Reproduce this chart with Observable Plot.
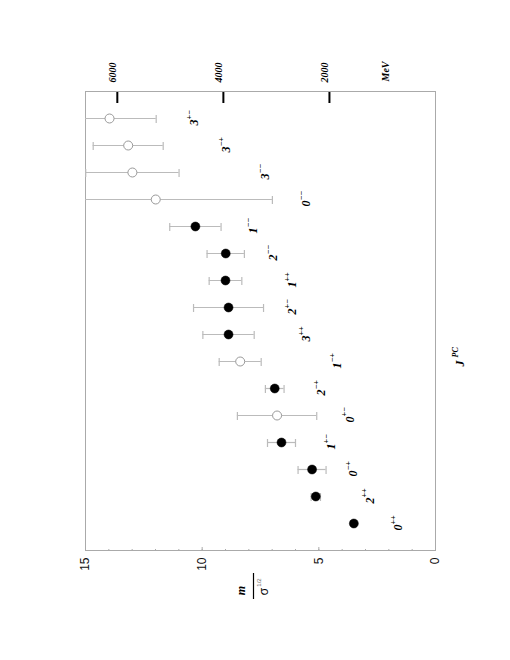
<!DOCTYPE html>
<html><head><meta charset="utf-8">
<script src="https://cdn.jsdelivr.net/npm/d3@7"></script>
<script src="https://cdn.jsdelivr.net/npm/@observablehq/plot@0.6"></script>
<style>
html,body{margin:0;padding:0;background:#fff;width:510px;height:660px;overflow:hidden}
#chart{position:absolute;left:-75px;top:75px;width:660px;height:510px;transform:rotate(-90deg);transform-origin:50% 50%}
#chart svg{display:block}
</style></head><body><div id="chart"></div>
<script>
// J^PC states, ordered along the category axis
const states = ["0++","2++","0-+","1+-","0+-","2-+","1-+","3++","2+-","1++","2--","1--","0--","3--","3-+","3+-"];
// m / sigma^(1/2)
const mass = [3.50,5.13,5.29,6.60,6.79,6.89,8.37,8.87,8.87,9.00,8.99,10.29,11.99,12.99,13.17,13.97];
const err  = [0.05,0.20,0.60,0.60,1.70,0.40,0.90,1.10,1.50,0.70,0.80,1.10,5.00,2.00,1.50,2.00];
const confirmed = [true,true,true,true,false,true,false,true,true,true,true,true,false,false,false,false];
// where each J^PC annotation sits on the m/sigma^(1/2) axis
const labelAt = [1.64,2.86,3.57,4.50,3.72,4.93,4.24,5.57,6.18,6.18,7.00,7.84,5.57,7.33,9.00,10.37];
const yDomain = [0, 15];
const yMinorTicks = d3.range(0, 16);
const yMajorTicks = [0, 5, 10, 15];
const mevTicks = [2000, 4000, 6000];
const sqrtSigmaMeV = 440;

const rows = states.map((s, i) => ({
  s, m: mass[i], lo: mass[i] - err[i], hi: mass[i] + err[i],
  filled: confirmed[i], lab: labelAt[i],
  J: s[0], PC: s.slice(1).replace(/-/g, "\u2212")
}));

const W = 660, H = 510, mL = 109, mR = 92, mT = 85, mB = 75;
const fw = W - mL - mR;
const mid = (yDomain[0] + yDomain[1]) / 2;
const serif = "'Liberation Serif','Times New Roman',serif";
const sans = "'Liberation Sans',Arial,sans-serif";

const plot = Plot.plot({
  width: W, height: H,
  marginLeft: mL, marginRight: mR, marginTop: mT, marginBottom: mB,
  x: {type: "band", domain: states, paddingInner: 1, paddingOuter: 1, axis: null},
  y: {domain: yDomain, axis: null},
  style: {background: "white", overflow: "visible"},
  marks: [
    Plot.frame({stroke: "#aaa"}),
    // left axis ticks (inside)
    Plot.ruleY(yMinorTicks, {y: d => d, stroke: "#aaa", insetRight: fw - 2}),
    Plot.ruleY(yMajorTicks, {y: d => d, stroke: "#aaa", insetRight: fw - 4}),
    Plot.text(yMajorTicks, {y: d => d, text: d => String(d), frameAnchor: "left", dx: -7,
      textAnchor: "end", fontSize: 12, fontFamily: sans, fill: "#111"}),
    // MeV axis (right side)
    Plot.ruleY(mevTicks, {y: d => d / sqrtSigmaMeV, stroke: "black", strokeWidth: 2, insetLeft: fw - 11}),
    Plot.text(mevTicks, {y: d => d / sqrtSigmaMeV, text: d => String(d), frameAnchor: "right", dx: 9, dy: -5,
      textAnchor: "start", fontSize: 10, fontStyle: "italic", fontWeight: "bold", fontFamily: serif}),
    Plot.text(["MeV"], {frameAnchor: "bottom-right", lineAnchor: "middle", dx: 10, dy: -50,
      textAnchor: "start", fontSize: 10, fontStyle: "italic", fontWeight: "bold", fontFamily: serif}),
    // y label  m / sigma^(1/2)
    Plot.text(["m"], {frameAnchor: "left", dx: -40, dy: -19, textAnchor: "middle",
      fontSize: 12, fontStyle: "italic", fontWeight: "bold", fontFamily: serif}),
    Plot.ruleY([mid], {dy: -7, stroke: "black", strokeWidth: 1.2, insetLeft: -48, insetRight: fw + 22}),
    Plot.text(["\u03C3"], {frameAnchor: "left", dx: -41, dy: 4, textAnchor: "middle",
      fontSize: 12, fontFamily: sans}),
    Plot.text(["1/2"], {frameAnchor: "left", dx: -32, dy: -1, textAnchor: "middle",
      fontSize: 6, fontFamily: sans, fill: "#666"}),
    // x label J^PC
    Plot.text(["J"], {x: () => "1-+", frameAnchor: "bottom", lineAnchor: "middle", dy: 25, dx: 1,
      textAnchor: "end", fontSize: 12, fontStyle: "italic", fontWeight: "bold", fontFamily: serif}),
    Plot.text(["PC"], {x: () => "1-+", frameAnchor: "bottom", lineAnchor: "middle", dy: 20, dx: 4,
      textAnchor: "start", fontSize: 8, fontStyle: "italic", fontWeight: "bold", fontFamily: serif}),
    // error bars
    Plot.ruleX(rows, {x: "s", y1: "lo", y2: "hi", stroke: "#bbb", strokeWidth: 1.2, clip: true}),
    Plot.tickY(rows, {x: "s", y: "lo", stroke: "#bbb", strokeWidth: 1.2, insetLeft: -4, insetRight: -4, clip: true}),
    Plot.tickY(rows, {x: "s", y: "hi", stroke: "#bbb", strokeWidth: 1.2, insetLeft: -4, insetRight: -4, clip: true}),
    // points
    Plot.dot(rows.filter(d => d.filled), {x: "s", y: "m", r: 4.5, fill: "black", stroke: "black", strokeWidth: 0.5}),
    Plot.dot(rows.filter(d => !d.filled), {x: "s", y: "m", r: 4.5, fill: "white", stroke: "#999", strokeWidth: 1}),
    // J^PC annotations: spin J with P, C parities as superscript
    Plot.text(rows, {x: "s", y: "lab", text: "J", textAnchor: "end", dx: -1, dy: 1,
      fontSize: 12, fontStyle: "italic", fontWeight: "bold", fontFamily: serif}),
    Plot.text(rows, {x: "s", y: "lab", text: "PC", textAnchor: "start", dx: -1, dy: -4,
      fontSize: 8, fontStyle: "italic", fontWeight: "bold", fontFamily: serif})
  ]
});
document.getElementById("chart").appendChild(plot);
</script>
</body></html>
